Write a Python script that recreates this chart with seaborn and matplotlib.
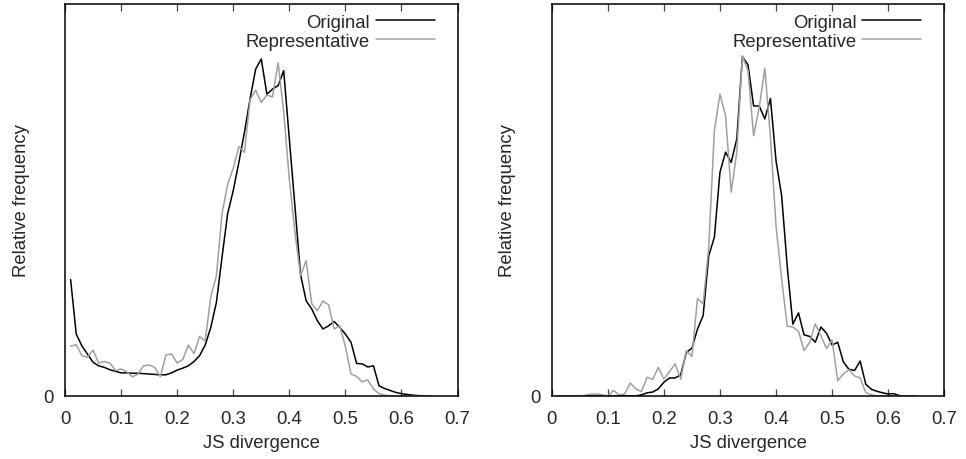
import pandas as pd
import matplotlib
matplotlib.use("Agg")
import matplotlib.pyplot as plt
import seaborn as sns


# JS divergence bins (0.01 wide), shared by both panels.
js_bins = [round(0.01 * i, 2) for i in range(1, 66)]

# Left panel, relative frequency (arbitrary units, axis top = 100).
left_original = [29.7, 15.8, 12.8, 10.7, 8.6, 7.7, 7.3, 6.7, 6.3, 5.9,
                 5.9, 5.8, 5.8, 5.7, 5.6, 5.5, 5.4, 5.4, 5.9, 6.6,
                 7.1, 7.7, 8.8, 10.3, 13.0, 17.5, 23.9, 35.4, 46.5, 52.4,
                 59.6, 67.3, 75.8, 83.4, 86.0, 77.0, 78.3, 79.2, 83.0, 65.6,
                 48.5, 31.0, 24.3, 22.2, 19.2, 17.1, 17.9, 19.0, 17.5, 15.8,
                 13.7, 8.3, 8.2, 7.4, 7.7, 2.6, 1.9, 1.4, 0.9, 0.6,
                 0.4, 0.2, 0.1, 0.0, 0.0]
left_representative = [12.7, 13.1, 10.3, 9.9, 11.7, 8.4, 8.8, 8.4, 6.5, 6.9,
                       6.2, 4.9, 5.6, 7.7, 7.9, 7.3, 4.9, 10.5, 10.7, 8.4,
                       9.3, 13.0, 10.8, 15.2, 14.0, 25.4, 30.7, 46.5, 54.0, 58.1,
                       63.6, 62.2, 75.6, 78.0, 74.9, 76.8, 76.3, 85.0, 72.4, 55.4,
                       41.8, 30.7, 34.5, 23.5, 21.8, 24.2, 23.3, 17.1, 17.9, 12.6,
                       5.6, 5.0, 3.6, 4.1, 1.8, 0.6, 0.2, 0.0, 0.0, 0.0,
                       0.0, 0.0, 0.0, 0.0, 0.0]

# Right panel.
right_original = [0.0, 0.0, 0.0, 0.0, 0.0, 0.0, 0.0, 0.0, 0.0, 0.0,
                  0.0, 0.0, 0.0, 0.0, 0.0, 0.3, 0.8, 1.0, 1.8, 3.5,
                  4.6, 4.6, 5.4, 11.1, 12.2, 17.1, 20.5, 35.8, 40.5, 57.1,
                  62.2, 59.6, 65.6, 86.6, 84.5, 74.0, 74.0, 70.7, 75.9, 60.0,
                  51.1, 33.0, 18.3, 21.2, 15.6, 15.2, 13.7, 17.6, 16.0, 13.0,
                  13.7, 8.7, 6.8, 6.5, 8.9, 3.0, 1.7, 1.2, 0.8, 0.5,
                  0.6, 0.1, 0.0, 0.0, 0.0]
right_representative = [0.0, 0.0, 0.0, 0.0, 0.0, 0.2, 0.5, 0.5, 0.3, 0.0,
                        1.4, 0.3, 0.5, 3.3, 1.8, 1.1, 4.8, 4.2, 7.3, 4.3,
                        6.2, 8.2, 4.3, 11.6, 10.1, 24.9, 23.5, 38.0, 67.7, 77.0,
                        71.5, 52.0, 62.2, 86.8, 83.0, 66.4, 73.6, 83.6, 66.0, 43.4,
                        29.8, 17.8, 17.6, 16.5, 11.6, 13.7, 18.4, 15.4, 12.1, 14.3,
                        3.9, 5.6, 6.7, 5.1, 4.6, 0.9, 0.3, 0.0, 0.0, 0.0,
                        0.0, 0.0, 0.0, 0.0, 0.0]

x_ticks = [0, 0.1, 0.2, 0.3, 0.4, 0.5, 0.6, 0.7]
x_tick_labels = ["0", "0.1", "0.2", "0.3", "0.4", "0.5", "0.6", "0.7"]


def long_frame(original, representative):
    df_o = pd.DataFrame({"js": js_bins, "freq": original, "Set": "Original"})
    df_r = pd.DataFrame({"js": js_bins, "freq": representative, "Set": "Representative"})
    return pd.concat([df_o, df_r], ignore_index=True)


sns.set_style("white")
plt.rcParams['font.family'] = ['Liberation Sans', 'DejaVu Sans']
font_size = 13.3

fig, axes = plt.subplots(1, 2, figsize=(9.66, 4.6), dpi=100)
fig.subplots_adjust(left=0.0673, right=0.9775, bottom=0.137, top=0.989, wspace=0.24)

panels = [(left_original, left_representative), (right_original, right_representative)]
for ax, (orig, rep) in zip(axes, panels):
    sns.lineplot(data=long_frame(orig, rep), x="js", y="freq", hue="Set",
                 palette={"Original": "black", "Representative": "#a0a0a0"},
                 linewidth=1.1, ax=ax)
    ax.set_xlim(0, 0.7)
    ax.set_ylim(0, 100)
    ax.set_xticks(x_ticks)
    ax.set_xticklabels(x_tick_labels, fontsize=font_size)
    ax.set_yticks([0])
    ax.set_yticklabels(["0"], fontsize=font_size)
    ax.tick_params(axis="x", direction="in", length=5, width=0.9, color="#444444",
                   top=True, bottom=True, pad=10)
    ax.tick_params(axis="y", length=0, pad=8)
    for s in ax.spines.values():
        s.set_color("black")
        s.set_linewidth(1.1)
    ax.set_xlabel("JS divergence", fontsize=font_size, labelpad=5)
    ax.set_ylabel("Relative frequency", fontsize=font_size, labelpad=10)
    ax.legend(loc="upper right", bbox_to_anchor=(0.942, 0.975), frameon=False,
              markerfirst=False, fontsize=font_size, handlelength=3.2,
              handletextpad=0.3, labelspacing=0.1, borderpad=0, borderaxespad=0)

plt.savefig("out.png", dpi=100)
